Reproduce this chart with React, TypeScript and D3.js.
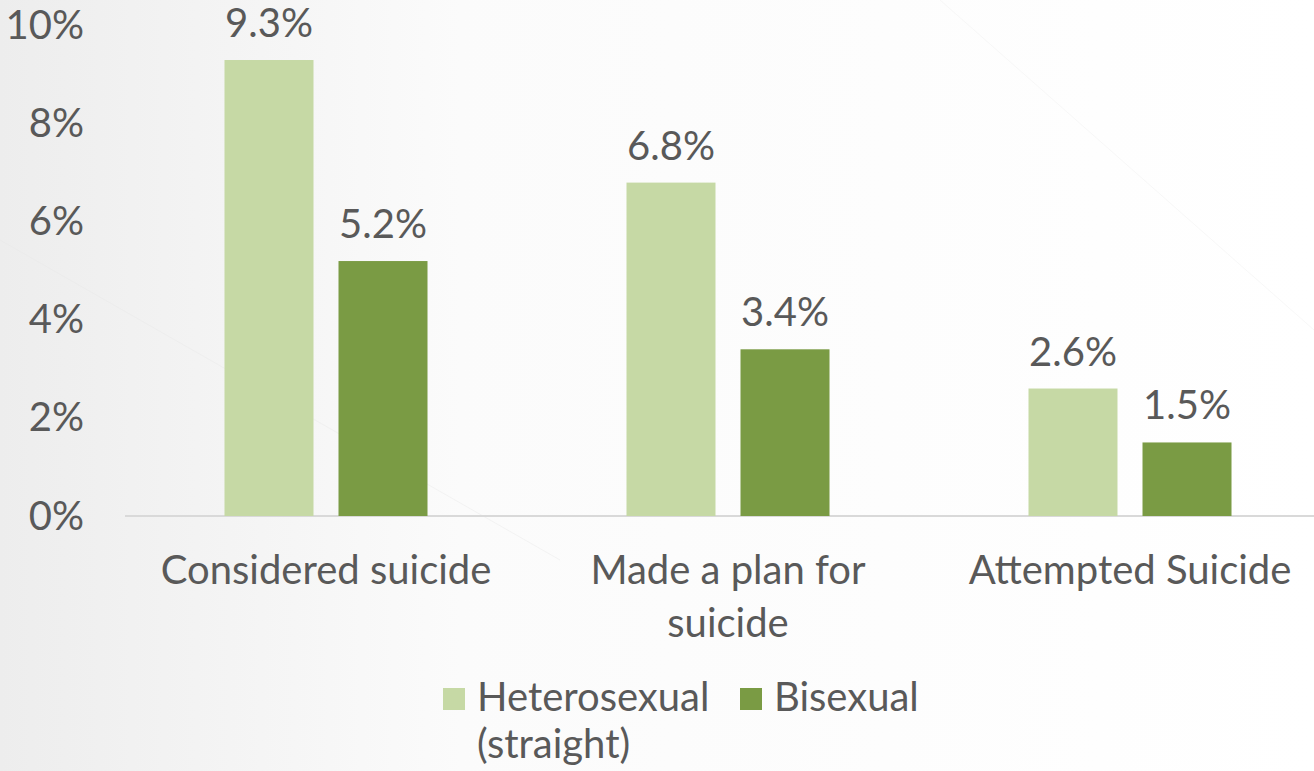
import React from "react";
import * as d3 from "d3";

const categories = ["Considered suicide", "Made a plan for suicide", "Attempted Suicide"];
const categoryLines = [["Considered suicide"], ["Made a plan for", "suicide"], ["Attempted Suicide"]];
const seriesNames = ["Heterosexual (straight)", "Bisexual"];
const legendLines = [["Heterosexual", "(straight)"], ["Bisexual"]];
const heterosexual = [9.3, 6.8, 2.6];
const bisexual = [5.2, 3.4, 1.5];
const yTicks = [0, 2, 4, 6, 8, 10];
const colors = ["#c6d9a5", "#7a9b44"];

const W = 1314;
const H = 771;
const FONT = "Lato, 'Open Sans', sans-serif";
const FS = 40;
const TEXT = "#595959";

export default function App() {
  const x = d3
    .scaleBand<string>()
    .domain(categories)
    .range([125, 1331])
    .paddingInner(0.495)
    .paddingOuter(0.2475);
  const xs = d3
    .scaleBand<string>()
    .domain(seriesNames)
    .range([0, x.bandwidth()])
    .paddingInner(0.2193);
  const y = d3.scaleLinear().domain([0, 10]).range([516, 25.7]);
  const series = [heterosexual, bisexual];

  return (
    <svg
      width={W}
      height={H}
      style={{ position: "absolute", left: 0, top: 0 }}
      fontFamily={FONT}
    >
      <defs>
        <linearGradient id="bg" x1="0" y1="0" x2="1" y2="0">
          <stop offset="0" stopColor="#ededed" />
          <stop offset="0.35" stopColor="#fbfbfb" />
          <stop offset="1" stopColor="#ffffff" />
        </linearGradient>
      </defs>
      <rect width={W} height={H} fill="url(#bg)" />
      <line x1={0} y1={240} x2={560} y2={560} stroke="#e8e8e8" strokeWidth={1} opacity={0.4} />
      <line x1={940} y1={0} x2={1314} y2={330} stroke="#efefef" strokeWidth={1} opacity={0.4} />

      {yTicks.map((t) => (
        <text
          key={t}
          x={84}
          y={y(t) + 13.5}
          textAnchor="end"
          fontSize={FS}
          fill={TEXT}
        >
          {t}%
        </text>
      ))}

      <line x1={125} y1={y(0)} x2={W} y2={y(0)} stroke="#d9d9d9" strokeWidth={2} />

      {categories.map((c, i) => (
        <g key={c} transform={`translate(${x(c)},0)`}>
          {series.map((vals, si) => {
            const bx = xs(seriesNames[si])!;
            const v = vals[i];
            return (
              <g key={si}>
                <rect
                  x={bx}
                  y={y(v)}
                  width={xs.bandwidth()}
                  height={y(0) - y(v)}
                  fill={colors[si]}
                />
                <text
                  x={bx + xs.bandwidth() / 2}
                  y={y(v) - 23}
                  textAnchor="middle"
                  fontSize={FS}
                  fill={TEXT}
                >
                  {v.toFixed(1)}%
                </text>
              </g>
            );
          })}
          <text textAnchor="middle" fontSize={FS} fill={TEXT}>
            {categoryLines[i].map((ln, li) => (
              <tspan key={li} x={x.bandwidth() / 2} y={584 + li * 53}>
                {ln}
              </tspan>
            ))}
          </text>
        </g>
      ))}

      {[443, 740].map((lx, si) => (
        <g key={si}>
          <rect x={lx} y={688} width={22} height={22} fill={colors[si]} />
          <text fontSize={FS} fill={TEXT}>
            {legendLines[si].map((ln, li) => (
              <tspan key={li} x={lx + 34} y={711 + li * 47}>
                {ln}
              </tspan>
            ))}
          </text>
        </g>
      ))}
    </svg>
  );
}
